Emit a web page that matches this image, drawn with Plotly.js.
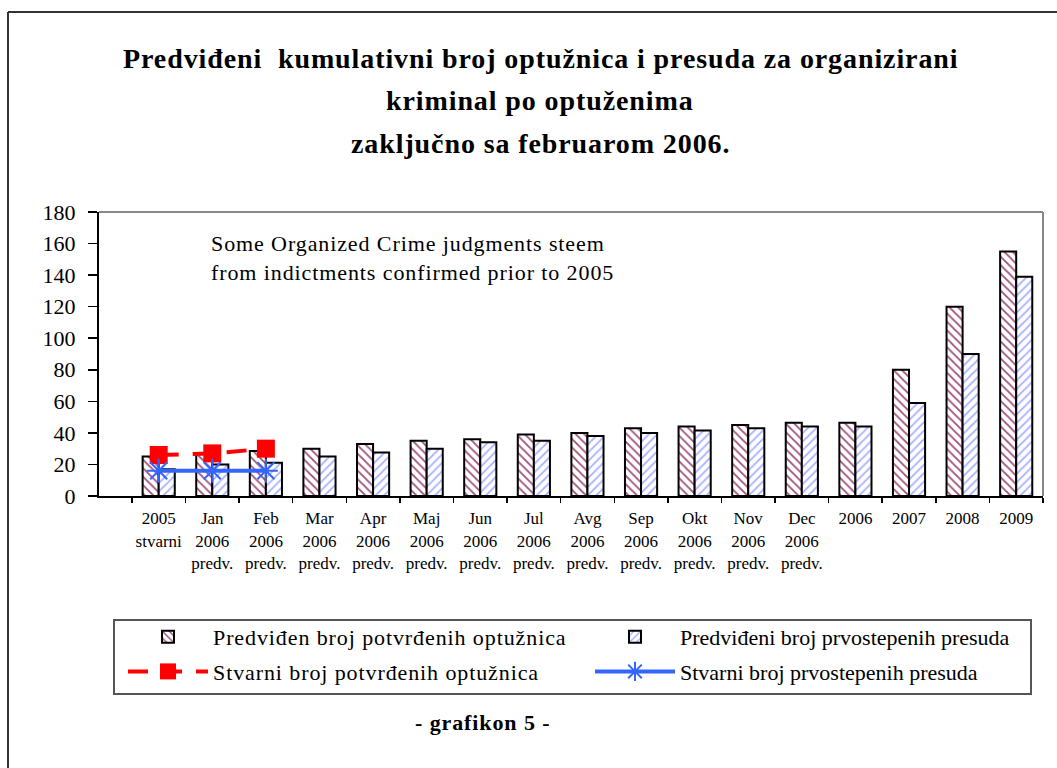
<!DOCTYPE html>
<html>
<head>
<meta charset="utf-8">
<script src="https://cdn.plot.ly/plotly-3.0.1.min.js"></script>
<style>
html,body{margin:0;padding:0;background:#fff;}
#chart{width:1057px;height:768px;}
.annotation-text{letter-spacing:0.9px;}
.legendtext{letter-spacing:0.9px;}
</style>
</head>
<body>
<div id="chart"></div>
<script>
// ---- data ----
var categories = ['2005 stvarni','Jan 2006 predv.','Feb 2006 predv.','Mar 2006 predv.','Apr 2006 predv.','Maj 2006 predv.','Jun 2006 predv.','Jul 2006 predv.','Avg 2006 predv.','Sep 2006 predv.','Okt 2006 predv.','Nov 2006 predv.','Dec 2006 predv.','2006','2007','2008','2009'];
var tickLabels = ['2005<br>stvarni','Jan<br>2006<br>predv.','Feb<br>2006<br>predv.','Mar<br>2006<br>predv.','Apr<br>2006<br>predv.','Maj<br>2006<br>predv.','Jun<br>2006<br>predv.','Jul<br>2006<br>predv.','Avg<br>2006<br>predv.','Sep<br>2006<br>predv.','Okt<br>2006<br>predv.','Nov<br>2006<br>predv.','Dec<br>2006<br>predv.','2006','2007','2008','2009'];
var predIndictments = [25, 27, 28.5, 30, 33, 35, 36, 39, 40, 43, 44, 45, 46.5, 46.5, 80, 120, 155];
var predJudgments   = [17, 20, 21, 25, 27.5, 30, 34, 35, 38, 40, 41.5, 43, 44, 44, 59, 90, 139];
var actualCats = ['2005 stvarni','Jan 2006 predv.','Feb 2006 predv.'];
var actualIndictments = [26, 27, 30];
var actualJudgments = [16, 16, 16];
var seriesNames = ['Predviđen broj potvrđenih optužnica','Predviđeni broj prvostepenih presuda','Stvarni broj potvrđenih optužnica','Stvarni broj prvostepenih presuda'];
var titleLines = ['Predviđeni&nbsp; kumulativni broj optužnica i presuda za organizirani','kriminal po optuženima','zaključno sa februarom 2006.'];
var noteText = 'Some Organized Crime judgments steem<br>from indictments confirmed prior to 2005';
var footerText = '- grafikon 5 -';

var serif = 'Liberation Serif, Times New Roman, serif';

var traces = [
  {type:'bar', name:seriesNames[0], x:categories, y:predIndictments, legend:'legend', legendgroup:'a',
   marker:{color:'white', line:{color:'black', width:2},
           pattern:{shape:'\\', fgcolor:'#a0507a', bgcolor:'white', size:6, solidity:0.3}}},
  {type:'bar', name:seriesNames[1], x:categories, y:predJudgments, legend:'legend2', legendgroup:'b',
   marker:{color:'white', line:{color:'black', width:2},
           pattern:{shape:'/', fgcolor:'#a8b0ff', bgcolor:'white', size:6, solidity:0.3}}},
  {type:'scatter', mode:'lines+markers', name:seriesNames[2], x:actualCats, y:actualIndictments, legend:'legend', legendgroup:'c',
   line:{color:'#ff0000', width:4, dash:'20px,14px'},
   marker:{symbol:'square', size:18, color:'#ff0000'}},
  {type:'scatter', mode:'lines+markers', name:seriesNames[3], x:actualCats, y:actualJudgments, legend:'legend2', legendgroup:'d',
   line:{color:'#3366ff', width:4},
   marker:{symbol:'asterisk-open', size:20, color:'#3366ff', line:{color:'#3366ff', width:2}}}
];

function py(Y){ return (496 - Y) / 284; }
function px(X){ return (X - 99) / 944; }

var annotations = [];
var titleY = [58, 100, 143];
titleLines.forEach(function(t, i){
  annotations.push({xref:'paper', yref:'paper', x:px(540), y:py(titleY[i]), xanchor:'center', yanchor:'middle',
    text:'<b>'+t+'</b>', showarrow:false, font:{family:serif, size:28, color:'black'}});
});
annotations.push({xref:'paper', yref:'paper', x:px(209), y:py(229), xanchor:'left', yanchor:'top', align:'left',
  text:noteText, showarrow:false, font:{family:serif, size:22, color:'black'}});
annotations.push({xref:'paper', yref:'paper', x:px(482), y:py(722), xanchor:'center', yanchor:'middle',
  text:'<b>'+footerText+'</b>', showarrow:false, font:{family:serif, size:22, color:'black'}});

var legendBase = {orientation:'v', xanchor:'left', y:py(616), yanchor:'top',
  itemwidth:80, borderwidth:0, bgcolor:'rgba(0,0,0,0)', traceorder:'grouped', tracegroupgap:3,
  font:{family:serif, size:22, color:'black'}};
var legend1 = Object.assign({}, legendBase, {x:px(123)});
var legend2 = Object.assign({}, legendBase, {x:px(590)});

var layout = {
  width:1057, height:768,
  margin:{l:99, r:14, t:212, b:272},
  paper_bgcolor:'white', plot_bgcolor:'white',
  font:{family:serif, color:'black'},
  showlegend:true,
  barmode:'group', bargap:0.4, bargroupgap:0,
  xaxis:{type:'category', tickvals:categories, ticktext:tickLabels, tickson:'boundaries',
         ticks:'outside', ticklen:5, tickcolor:'black', tickwidth:1.5,
         showline:true, linecolor:'black', linewidth:2, showgrid:false, zeroline:false,
         ticklabelstandoff:6,
         tickfont:{family:serif, size:17, color:'black'}, tickangle:0},
  yaxis:{range:[0,180], dtick:20, ticks:'outside', ticklen:9, tickcolor:'black', tickwidth:1.5,
         showline:true, linecolor:'black', linewidth:2, showgrid:false, zeroline:false,
         ticklabelstandoff:8, tickfont:{family:serif, size:22, color:'black'}},
  yaxis2:{range:[0,180], dtick:20, overlaying:'y', side:'left', ticks:'inside', ticklen:7,
         tickcolor:'black', tickwidth:1.5, showline:false, showgrid:false, zeroline:false,
         showticklabels:false, fixedrange:true},
  legend:legend1,
  legend2:legend2,
  shapes:[
    {type:'line', xref:'paper', yref:'paper', x0:0, x1:1, y0:1, y1:1, line:{color:'#888888', width:2}},
    {type:'line', xref:'paper', yref:'paper', x0:1, x1:1, y0:0, y1:1, line:{color:'#888888', width:2}},
    {type:'line', xref:'paper', yref:'paper', x0:px(8), x1:px(1070), y0:py(12), y1:py(12), line:{color:'#333333', width:2}},
    {type:'line', xref:'paper', yref:'paper', x0:px(8), x1:px(8), y0:py(12), y1:py(790), line:{color:'#333333', width:2}},
    {type:'rect', xref:'paper', yref:'paper', x0:px(114), x1:px(1031), y0:py(620), y1:py(694), line:{color:'#555555', width:2}, fillcolor:'rgba(0,0,0,0)'}
  ],
  annotations:annotations
};

Plotly.newPlot('chart', traces, layout, {displayModeBar:false, staticPlot:true});
</script>
</body>
</html>
